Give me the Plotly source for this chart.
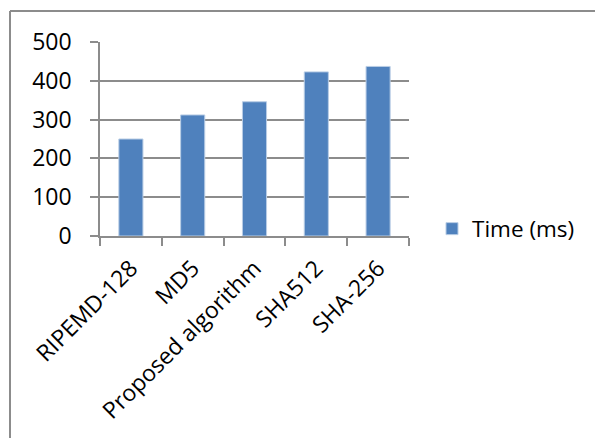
import plotly.graph_objects as go

categories = ["RIPEMD-128", "MD5", "Proposed algorithm", "SHA512", "SHA-256"]
time_ms = [250, 312, 346, 423, 437]
series_name = "Time (ms)"
y_ticks = [0, 100, 200, 300, 400, 500]

W, H = 595, 438
L, R, T, B = 100, 409, 42, 236

def px(x):
    return (x - L) / (R - L)

def py(y):
    return (B - y) / (B - T)

grid = "#8c8c8c"
font = dict(family="Open Sans, sans-serif", size=23, color="#000000")

fig = go.Figure()
fig.add_trace(go.Bar(
    x=categories, y=time_ms, name=series_name,
    marker=dict(color="#4f81bd", line=dict(color="#b9cde5", width=1)),
    showlegend=True,
))

fig.update_layout(
    width=W, height=H,
    margin=dict(l=L, r=W - R, t=T, b=H - B),
    paper_bgcolor="white", plot_bgcolor="white",
    font=font,
    bargap=0.61,
    showlegend=True,
    legend=dict(x=px(432), y=py(229), xanchor="left", yanchor="middle",
                font=dict(family="Open Sans, sans-serif", size=22.5, color="#000000"),
                itemwidth=30, bgcolor="rgba(0,0,0,0)"),
    xaxis=dict(
        type="category", showline=True, linecolor=grid, linewidth=1.5,
        ticks="outside", ticklen=8, tickcolor=grid, tickwidth=1.5,
        tickson="boundaries", tickangle=-45, showgrid=False,
        tickfont=font, ticklabelstandoff=8,
    ),
    yaxis=dict(
        range=[0, 500], tickvals=y_ticks, showline=True, linecolor=grid, linewidth=1.5,
        ticks="outside", ticklen=8, tickcolor=grid, tickwidth=1.5,
        showgrid=True, gridcolor=grid, gridwidth=1.5, zeroline=False,
        tickfont=font, ticklabelstandoff=14,
    ),
    shapes=[
        dict(type="line", xref="paper", yref="paper", x0=px(10), x1=px(600), y0=py(11), y1=py(11),
             line=dict(color="#8c8c8c", width=2)),
        dict(type="line", xref="paper", yref="paper", x0=px(10), x1=px(10), y0=py(11), y1=py(445),
             line=dict(color="#8c8c8c", width=2)),
    ],
)

fig.write_html("out.html")
